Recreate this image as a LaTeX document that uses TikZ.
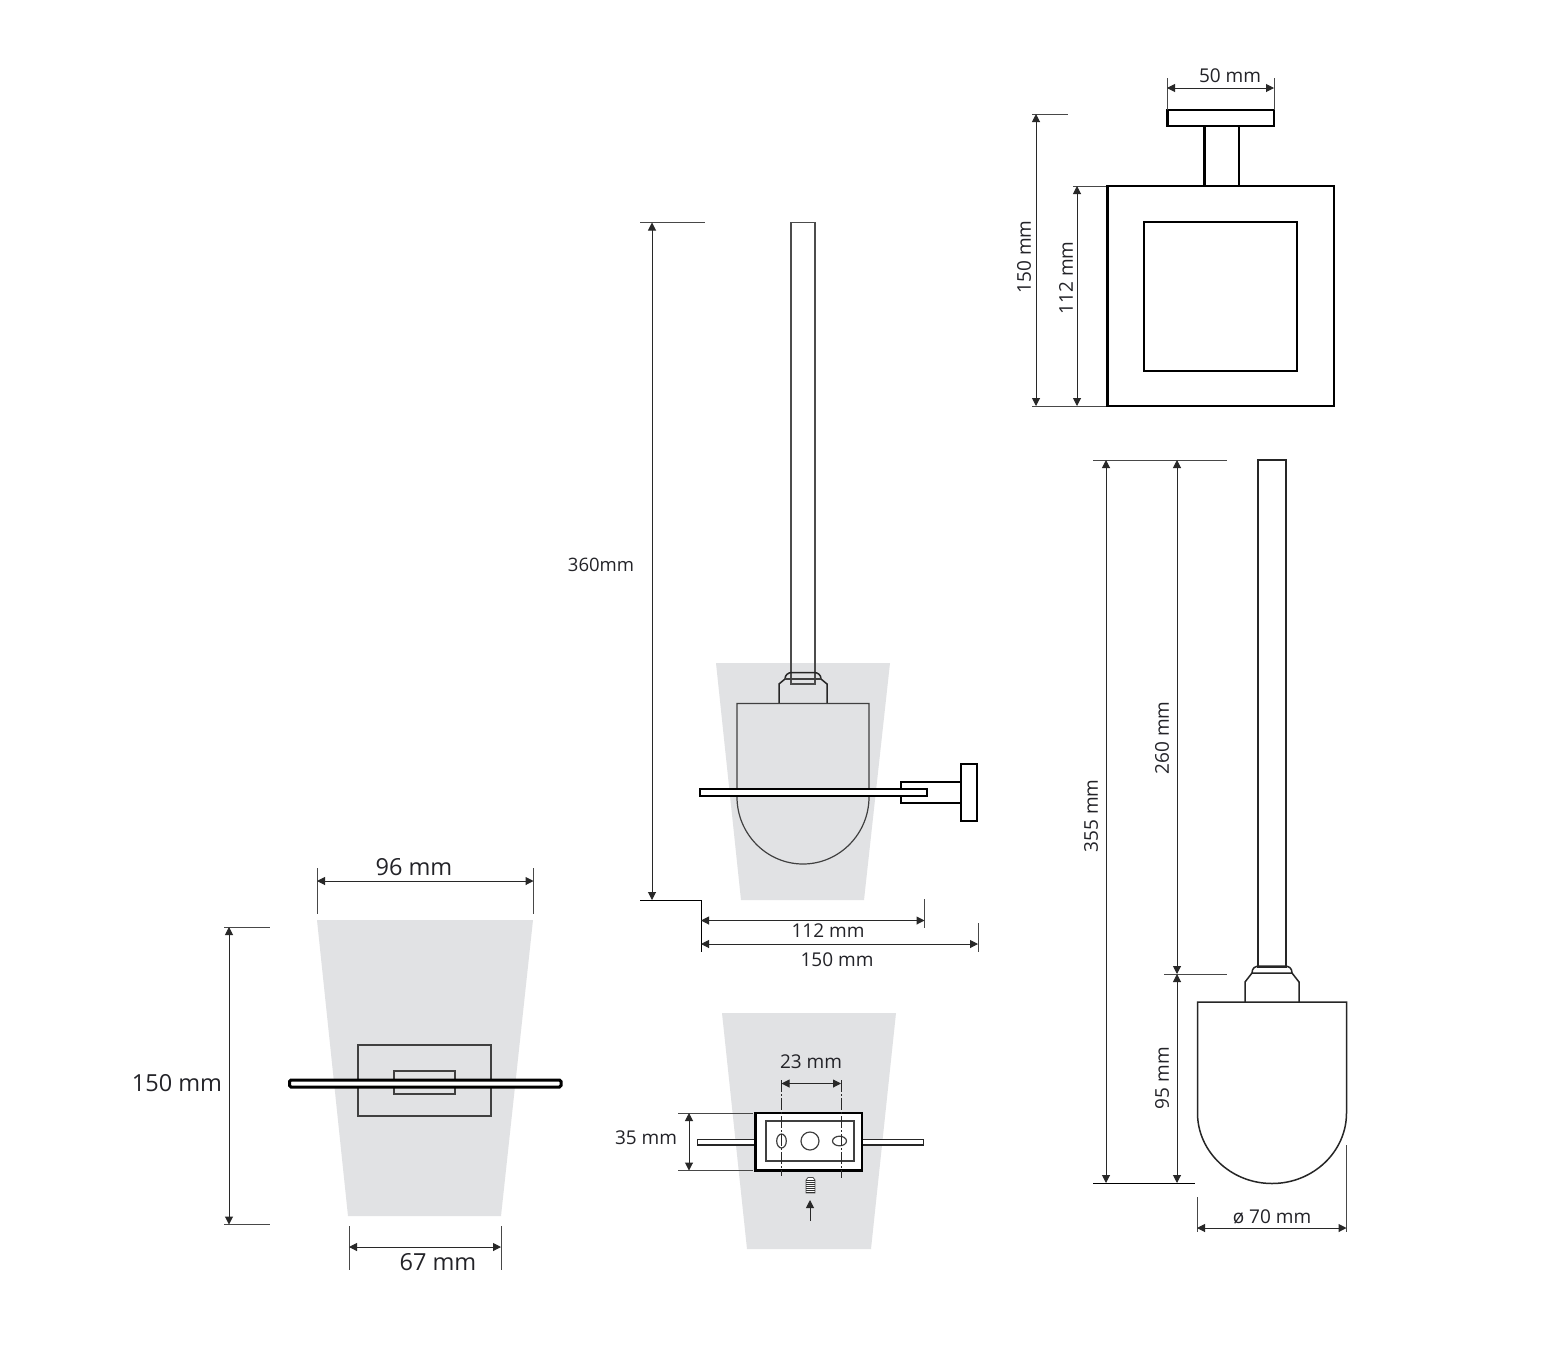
\documentclass[tikz,border=0pt]{standalone}
\usepackage{fontspec}
\setmainfont{Open Sans}
\usetikzlibrary{arrows.meta}
\definecolor{glass}{RGB}{225,226,228}
\definecolor{dimc}{RGB}{40,40,40}
\definecolor{txt}{RGB}{35,35,40}
\tikzset{
  x=1pt,y=-1pt,
  glassfill/.style={fill=glass,draw=none},
  heavy/.style={draw=black,line width=2.7pt,fill=white,line join=miter},
  medium/.style={draw=black!85,line width=1.5pt},
  thinpart/.style={draw=black!75,line width=1.2pt},
  dimline/.style={draw=dimc,line width=1pt,{Triangle[length=8pt,width=8pt]}-{Triangle[length=8pt,width=8pt]}},
  oneway/.style={draw=dimc,line width=1pt,-{Triangle[length=8pt,width=8pt]}},
  extline/.style={draw=dimc!85,line width=1pt},
  centerline/.style={draw=dimc,line width=1pt,dash pattern=on 12pt off 2pt on 2pt off 2pt},
  lab/.style={inner sep=0pt,text=txt,font=\fontsize{19}{21}\selectfont},
  bigl/.style={inner sep=0pt,text=txt,font=\fontsize{23.5}{26}\selectfont},
  smalll/.style={inner sep=0pt,text=txt,font=\fontsize{18.5}{20}\selectfont}
}
\begin{document}
\begin{tikzpicture}
\useasboundingbox (0,0) rectangle (1548,1366);
\fill[white] (0,0) rectangle (1548,1366);

% ---------- top view (upper right)
\draw[heavy] (1204.5,126) rectangle (1239,186);
\draw[heavy] (1167.5,110) rectangle (1274,126);
\draw[heavy] (1107.5,186) rectangle (1334,406);
\draw[heavy] (1144,222) rectangle (1297,371);
\draw[extline] (1167,78) -- (1167,110);
\draw[extline] (1274,78) -- (1274,110);
\draw[dimline] (1167,88) -- (1274,88);
\node[lab] (t50) at (1230,76) {50 mm};
\draw[extline] (1032,114) -- (1068,114);
\draw[extline] (1032,406) -- (1106,406);
\draw[extline] (1073,186) -- (1106,186);
\draw[dimline] (1036,114) -- (1036,406);
\draw[dimline] (1077,186) -- (1077,406);
\node[lab,rotate=90] (t150a) at (1024,257) {150 mm};
\node[lab,rotate=90] (t112a) at (1066,278) {112 mm};

% ---------- side view (right)
\draw[medium,fill=white] (1258,460) rectangle (1286,967);
\draw[medium] (1245,1002) -- (1245,982) -- (1252,973) -- (1292,973) -- (1299,982) -- (1299,1002);
\draw[medium] (1252,973) .. controls (1252,968) and (1255,966) .. (1260,966) -- (1284,966) .. controls (1289,966) and (1292,968) .. (1292,973);
\draw[medium] (1197.5,1002) -- (1346.5,1002) -- (1346.5,1113)
  .. controls (1346.5,1151.7) and (1313.1,1183.5) .. (1272,1183.5)
  .. controls (1230.9,1183.5) and (1197.5,1151.7) .. (1197.5,1113) -- cycle;
\draw[extline] (1093,460) -- (1227,460);
\draw[extline] (1164,974) -- (1227,974);
\draw[extline,black] (1093,1183.5) -- (1195,1183.5);
\draw[dimline] (1106,460) -- (1106,1183);
\draw[dimline] (1177,460) -- (1177,974);
\draw[dimline] (1177,974) -- (1177,1183);
\node[lab,rotate=90] (t355) at (1091,816) {355 mm};
\node[lab,rotate=90] (t260) at (1162,738) {260 mm};
\node[lab,rotate=90] (t95) at (1162,1078) {95 mm};
\draw[extline] (1197,1197) -- (1197,1232);
\draw[extline] (1346.5,1145) -- (1346.5,1232);
\draw[dimline] (1197,1228) -- (1346.5,1228);
\node[lab] (t70) at (1272,1217) {ø 70 mm};

% ---------- front view with wall bar (centre)
\fill[glassfill] (716,663) -- (890,663) -- (864,900) -- (741,900) -- cycle;
\draw[medium,draw=black!70] (791,222.5) rectangle (815,684);
\draw[medium] (779,703) -- (779,684) -- (785,679) .. controls (785,675) and (788,672.5) .. (792,672.5) -- (814,672.5) .. controls (818,672.5) and (821,675) .. (821,679) -- (827,684) -- (827,703);
\draw[thinpart] (785,679) -- (821,679);
\draw[thinpart] (737,703.5) -- (869,703.5) -- (869,797)
  .. controls (869,833.7) and (839.5,864) .. (803,864)
  .. controls (766.5,864) and (737,833.7) .. (737,797) -- cycle;
\draw[heavy] (901,782) rectangle (961,803);
\draw[heavy] (961,764) rectangle (977,821);
\draw[heavy] (700,789) rectangle (927,796);
\draw[extline] (640,222.5) -- (705,222.5);
\draw[extline,black] (640,900) -- (701,900) -- (701,952);
\draw[dimline] (652,222.5) -- (652,900);
\node[smalll] (t360) at (601,565) {360mm};
\draw[extline] (924.5,899) -- (924.5,928);
\draw[extline] (978,923) -- (978,952);
\draw[dimline] (701,920.5) -- (924.5,920.5);
\draw[dimline] (701,944) -- (978,944);
\node[lab] (t112b) at (828,931) {112 mm};
\node[lab] (t150b) at (837,960) {150 mm};

% ---------- mounting plate view (bottom centre)
\fill[glassfill] (722,1013) -- (896,1013) -- (871,1249) -- (747,1249) -- cycle;
\draw[medium,fill=white] (697.5,1139.5) rectangle (755,1145);
\draw[medium,fill=white] (862,1139.5) rectangle (923.5,1145);
\draw[heavy] (755.5,1113) rectangle (862,1170.5);
\draw[thinpart] (766,1121) rectangle (854,1161);
\draw[thinpart] (781.5,1141) ellipse[x radius=4.8,y radius=7];
\draw[thinpart] (810,1141) circle[radius=9];
\draw[thinpart] (839.5,1141) ellipse[x radius=7,y radius=4.8];
\draw[centerline] (781.5,1080) -- (781.5,1176);
\draw[centerline] (841,1080) -- (841,1178);
\draw[dimline] (781.5,1083.5) -- (841,1083.5);
\node[lab] (t23) at (811,1062) {23 mm};
\draw[extline] (678,1113) -- (753,1113);
\draw[extline] (678,1170.5) -- (753,1170.5);
\draw[dimline] (689,1113) -- (689,1170.5);
\node[lab] (t35) at (646,1138) {35 mm};
\draw[draw=black!70,line width=.8pt,fill=white] (806,1193) -- (806,1180) -- (808,1177.5) -- (813,1177.5) -- (815,1180) -- (815,1193) -- cycle;
\foreach \yy in {1180,1182,...,1192} \draw[draw=black!80,line width=.7pt] (806,\yy) -- (815,\yy);
\draw[oneway] (810,1221) -- (810,1200);

% ---------- front view (bottom left)
\fill[glassfill] (317,920) -- (533,920) -- (501,1216) -- (348,1216) -- cycle;
\draw[thinpart] (358,1045) rectangle (491,1116);
\draw[thinpart] (394,1071) rectangle (455,1094);
\draw[draw=black,line width=3pt,fill=white,rounded corners=1.5pt] (289.5,1080) rectangle (561,1087);
\draw[extline] (317,868) -- (317,914);
\draw[extline] (533.5,868) -- (533.5,914);
\draw[dimline] (317,881) -- (533.5,881);
\node[bigl] (t96) at (414,867) {96 mm};
\draw[extline] (224,927) -- (270,927);
\draw[extline] (224,1224.5) -- (270,1224.5);
\draw[dimline] (229,927) -- (229,1224.5);
\node[bigl] (t150c) at (177,1083) {150 mm};
\draw[extline] (349,1226) -- (349,1270);
\draw[extline] (501,1226) -- (501,1270);
\draw[dimline] (349,1247) -- (501,1247);
\node[bigl] (t67) at (438,1262) {67 mm};
\end{tikzpicture}
\end{document}
